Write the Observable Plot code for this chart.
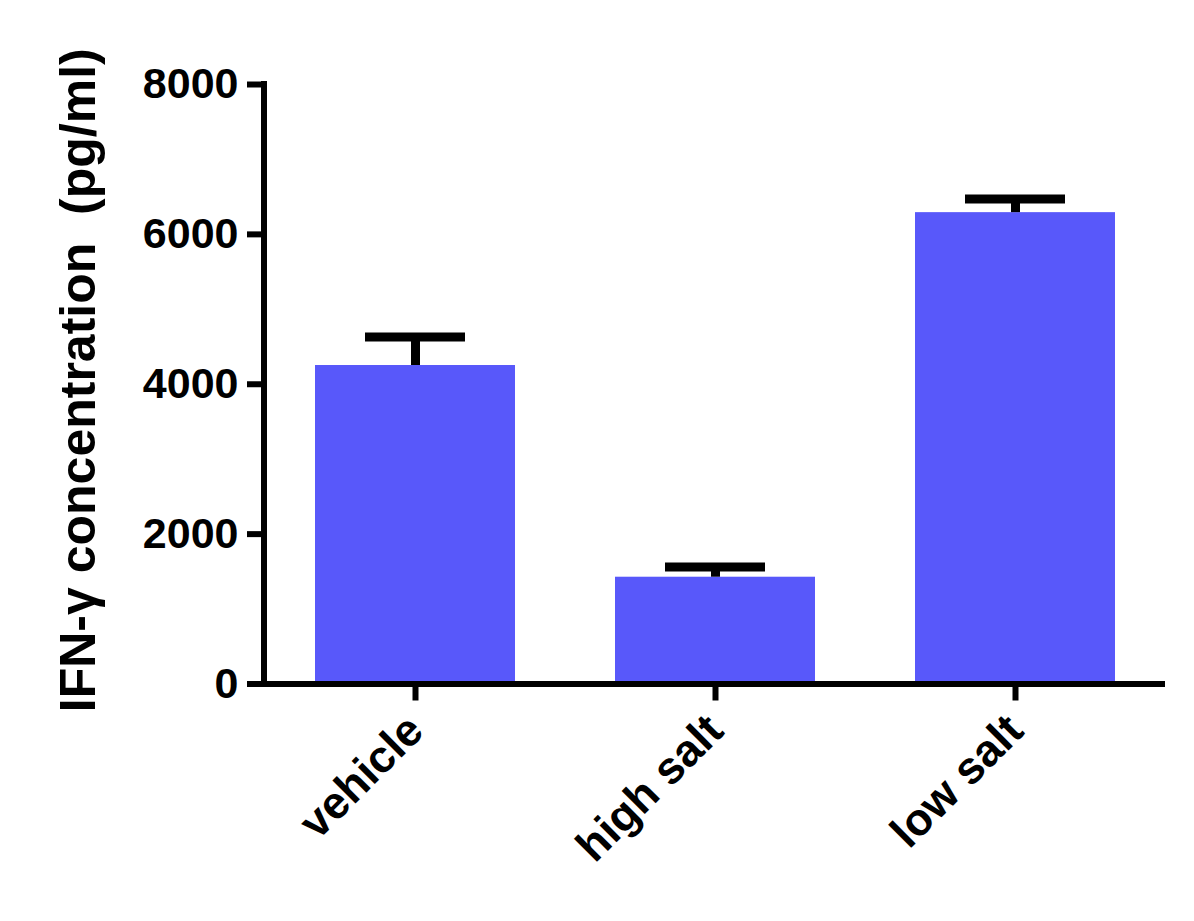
<!DOCTYPE html>
<html>
<head>
<meta charset="utf-8">
<script src="https://cdn.jsdelivr.net/npm/d3@7"></script>
<script src="https://cdn.jsdelivr.net/npm/@observablehq/plot@0.6"></script>
<style>
  html, body { margin: 0; padding: 0; background: white; }
</style>
</head>
<body>
<div id="chart"></div>
<script>
const groups = ["vehicle", "high salt", "low salt"];
const means = [4250, 1425, 6290];
const sems = [380, 136, 182];
const yTicks = [0, 2000, 4000, 6000, 8000];
const yLabel = "IFN-γ concentration  (pg/ml)";
const barColor = "#5858fa";

const rows = groups.map((g, i) => ({group: g, mean: means[i], upper: means[i] + sems[i]}));

const yAxisLine = (index, scales, values, dims) => {
  const {marginLeft, marginTop, marginBottom, height} = dims;
  const line = d3.create("svg:line")
    .attr("x1", marginLeft).attr("x2", marginLeft)
    .attr("y1", marginTop - 3).attr("y2", height - marginBottom)
    .attr("stroke", "black").attr("stroke-width", 6);
  return line.node();
};

const chart = Plot.plot({
  width: 1194,
  height: 921,
  marginLeft: 264,
  marginRight: 29,
  marginTop: 84,
  marginBottom: 237.5,
  style: {fontFamily: "'Liberation Sans', Arial, sans-serif", fontWeight: "bold", fontSize: "43px", background: "white", color: "black"},
  x: {domain: groups, paddingInner: 1/3, paddingOuter: 1/6},
  y: {domain: [0, 8000]},
  marks: [
    Plot.barY(rows, {x: "group", y: "mean", fill: barColor}),
    Plot.ruleX(rows, {x: "group", y1: "mean", y2: "upper", stroke: "black", strokeWidth: 9}),
    Plot.tickY(rows, {x: "group", y: "upper", stroke: "black", strokeWidth: 9, inset: 50}),
    Plot.axisY({ticks: yTicks, tickSize: 17, tickPadding: 9, strokeWidth: 6, fontSize: 43, fontWeight: "bold", label: null, tickFormat: d3.format("d")}),
    Plot.axisX({tickSize: 17, tickPadding: 22, strokeWidth: 6, fontSize: 45, fontWeight: "bold", tickRotate: -45, label: null}),
    Plot.ruleY([0], {stroke: "black", strokeWidth: 6}),
    yAxisLine,
    Plot.text([yLabel], {frameAnchor: "left", rotate: -90, textAnchor: "middle", dx: -186, dy: -4, fontSize: 50, fontWeight: "bold", fill: "black"})
  ]
});
document.getElementById("chart").appendChild(chart);
</script>
</body>
</html>
